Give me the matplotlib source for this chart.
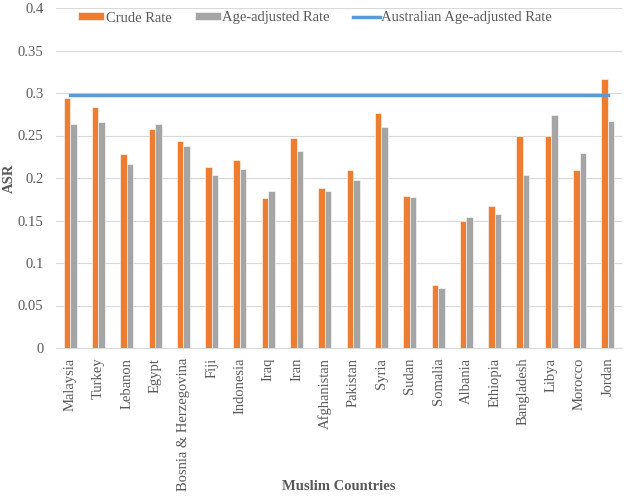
import matplotlib
matplotlib.use("Agg")
import matplotlib.pyplot as plt
import numpy as np

countries = ["Malaysia", "Turkey", "Lebanon", "Egypt", "Bosnia & Herzegovina", "Fiji",
             "Indonesia", "Iraq", "Iran", "Afghanistan", "Pakistan", "Syria", "Sudan",
             "Somalia", "Albania", "Ethiopia", "Bangladesh", "Libya", "Morocco", "Jordan"]
crude_rate = [0.294, 0.284, 0.228, 0.258, 0.244, 0.213, 0.221, 0.177, 0.247, 0.188,
              0.209, 0.277, 0.179, 0.074, 0.150, 0.167, 0.249, 0.250, 0.210, 0.317]
age_adjusted = [0.263, 0.266, 0.217, 0.264, 0.238, 0.203, 0.211, 0.185, 0.232, 0.185,
                0.198, 0.260, 0.178, 0.071, 0.154, 0.158, 0.204, 0.274, 0.229, 0.267]
australian_rate = 0.298
yticks = [0, 0.05, 0.1, 0.15, 0.2, 0.25, 0.3, 0.35, 0.4]
ytick_labels = ["0", "0.05", "0.1", "0.15", "0.2", "0.25", "0.3", "0.35", "0.4"]

plt.rcParams['font.family'] = ['Liberation Serif', 'DejaVu Serif']

fig = plt.figure(figsize=(6.24, 4.97), dpi=100)
ax = fig.add_axes([56/624, 1 - 348/497, (622 - 56)/624, (348 - 8)/497])

x = np.arange(len(countries))
w = 0.23
b1 = ax.bar(x - w/2, crude_rate, w, color="#ED7D31", edgecolor="white", linewidth=0.4,
            label="Crude Rate", zorder=3)
b2 = ax.bar(x + w/2, age_adjusted, w, color="#A5A5A5", edgecolor="white", linewidth=0.4,
            label="Age-adjusted Rate", zorder=3)
ln, = ax.plot([x[0], x[-1]], [australian_rate, australian_rate], color="#5B9BD5",
              linewidth=2.5, label="Australian Age-adjusted Rate", zorder=4)

ax.set_xlim(-0.5, len(countries) - 0.5)
ax.set_ylim(0, 0.4)
ax.set_yticks(yticks)
ax.set_yticklabels(ytick_labels, fontsize=10.5, color="#595959")
ax.set_xticks(x)
ax.set_xticklabels(countries, rotation=90, fontsize=10.5, color="#595959", va="top")
ax.tick_params(axis="x", length=0, pad=7)
ax.tick_params(axis="y", length=0, pad=9)
ax.yaxis.grid(True, color="#D9D9D9", linewidth=0.8, zorder=0)
ax.set_axisbelow(True)
for s in ["top", "right", "left"]:
    ax.spines[s].set_visible(False)
ax.spines["bottom"].set_color("#D9D9D9")

ax.set_ylabel("ASR", fontsize=10.5, fontweight="bold", color="#595959")
ax.yaxis.set_label_coords(-40/566, 0.5)
fig.text(339/624, 1 - 487/497, "Muslim Countries", fontsize=10.5, fontweight="bold",
         color="#595959", ha="center", va="center")

leg = ax.legend([b1, b2, ln], ["Crude Rate", "Age-adjusted Rate", "Australian Age-adjusted Rate"],
                loc="center left", bbox_to_anchor=(22/566, 1 - 10/340), ncol=3, frameon=False,
                fontsize=10.5, handlelength=1.8, handleheight=0.5, handletextpad=0.1,
                columnspacing=1.6, borderaxespad=0, borderpad=0)
for t in leg.get_texts():
    t.set_color("#595959")

fig.savefig("out.png", dpi=100)
